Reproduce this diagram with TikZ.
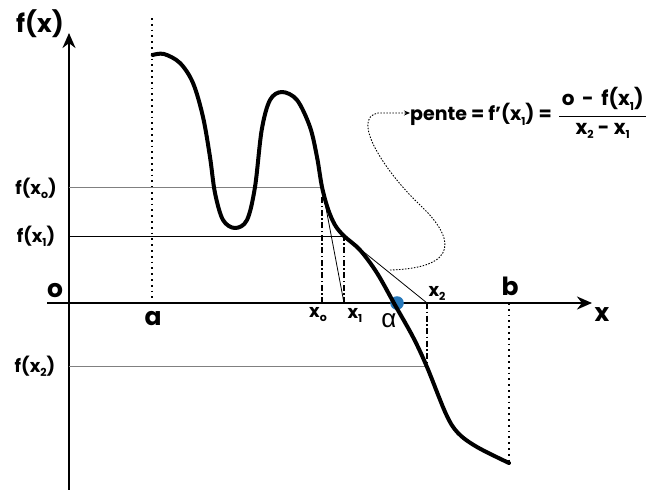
\documentclass[tikz,border=0pt]{standalone}
\usepackage{amsmath}
\usepackage{fontspec}
\setmainfont{Poppins}
\newfontfamily\grkfont{Liberation Sans}
\usetikzlibrary{arrows.meta}
\definecolor{rootblue}{RGB}{38,120,186}
\newcommand{\idx}[1]{\raisebox{-0.4ex}{\fontsize{11}{11}\selectfont #1}}

\begin{document}
\begin{tikzpicture}[x=1pt,y=-1pt,
    big/.style={font=\bfseries\fontsize{25}{25}\selectfont, inner sep=0pt},
    lbl/.style={font=\bfseries\fontsize{18}{18}\selectfont, inner sep=0pt},
    axis/.style={line width=2.4pt, -{Stealth[length=15pt,width=13pt]}},
    curve/.style={line width=4pt, line cap=round, line join=round},
    bound/.style={line width=1.8pt, dash pattern=on 1.8pt off 4pt},
    drop/.style={line width=1.5pt, dash pattern=on 6pt off 2.5pt on 1.5pt off 2.5pt},
    level/.style={line width=0.8pt},
    tangent/.style={line width=0.8pt},
    link/.style={line width=0.9pt, dash pattern=on 1.5pt off 1.5pt, -{Stealth[length=6pt,width=5pt]}}]
    \useasboundingbox (0,0) rectangle (662,490);

    % Points on the axes and on the curve
    \coordinate (O) at (69,303);
    \coordinate (A) at (152,303);
    \coordinate (Atop) at (152,18);
    \coordinate (B) at (509,303);
    \coordinate (Bbot) at (509,463);
    \coordinate (X0) at (322,303);
    \coordinate (X1) at (344,303);
    \coordinate (X2) at (427,303);
    \coordinate (P0) at (322,187);
    \coordinate (P1) at (344,236);
    \coordinate (P2) at (427,366);
    \coordinate (root) at (397,303);
    \coordinate (Lstart) at (390,270);

    % Draw axes
    \draw[axis] (69,490) -- (69,33);
    \draw[axis] (47,303) -- (592,303);
    \node[big] (fx) at (40,24) {f(x)};
    \node[big] (xlab) at (602,315) {x};
    \node[big] (zero) at (55,291) {o};

    % Bounds a and b
    \draw[bound] (Atop) -- (A);
    \draw[bound] (B) -- (Bbot);
    \node[big] (alab) at (153,319) {a};
    \node[big] (blab) at (510,286) {b};

    % Levels f(x0), f(x1), f(x2)
    \draw[level, gray] (O |- P0) -- (P0);
    \draw[level] (O |- P1) -- (P1);
    \draw[level, gray] (O |- P2) -- (P2);
    \node[lbl] (f0) at (36,188) {f(x\idx{o})};
    \node[lbl] (f1) at (36,236) {f(x\idx{1})};
    \node[lbl] (f2) at (35,366) {f(x\idx{2})};

    % Drop lines
    \draw[drop] (X0) -- (322,197);
    \draw[drop] (X1) -- (P1);
    \draw[drop] (X2) -- (P2);
    \node[lbl] (x0lab) at (318,315) {x\idx{o}};
    \node[lbl] (x1lab) at (355,315) {x\idx{1}};
    \node[lbl] (x2lab) at (437,293) {x\idx{2}};

    % Tangents
    \draw[tangent] (P0) -- (X1);
    \draw[tangent] (P1) -- (X2);

    % Root, under the curve
    \fill[rootblue] (root) circle (6.8pt);

    % The function
    \draw[curve] plot[smooth, tension=0.55] coordinates {(152.7,55) (164,54) (180,63) (193,83)
        (203,117) (210,157) (215,193) (223,220) (235,228) (247,220) (255,187) (261.7,130)
        (270,100) (282,92) (297,100) (310,127) (317,157) (322,187) (328,209) (335,225)
        (344,236) (360,250) (377,273) (395,305) (413,337) (427,367) (446,414) (458,433)
        (477,447) (509,463)};
    \node[font=\grkfont\fontsize{26}{26}\selectfont, inner sep=0pt] (alpha) at (389,321) {α};

    % Slope
    \node[lbl, anchor=west, font=\bfseries\fontsize{19}{19}\selectfont] (pente) at (410,113)
        {pente = f'(x\idx{1}) =\hspace{6pt}$\genfrac{}{}{1.8pt}{0}
        {\,\text{\fontsize{20}{20}\selectfont o\,\ -\ \,f(x\idx{1})}\,}
        {\text{\fontsize{20}{20}\selectfont x\idx{2}\ -\ x\idx{1}}}$};
    \draw[link] (Lstart) .. controls (460,268) and (455,238) .. (420,205)
        .. controls (385,172) and (350,118) .. (378,113) -- (pente.west);

\end{tikzpicture}
\end{document}
